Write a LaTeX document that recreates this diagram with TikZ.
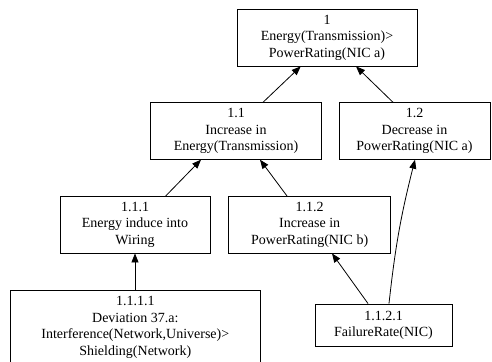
\documentclass[tikz,border=0pt]{standalone}
\usepackage{fontspec}
\setmainfont{Liberation Serif}
\usetikzlibrary{arrows.meta}
\begin{document}
\begin{tikzpicture}[x=1pt,y=-1pt,
  goalbox/.style={draw=black,line width=0.8pt,rectangle,inner sep=0pt,align=center,
    font=\fontsize{14pt}{16.5pt}\selectfont},
  arr/.style={draw=black,line width=0.8pt,-{Triangle[length=9pt,width=7pt]}}]
\useasboundingbox (0,0) rectangle (492,361);
\node[goalbox,minimum width=180pt,minimum height=57pt] (n1) at (327,37.5)
  {1\\Energy(Transmission)>\\PowerRating(NIC a)};
\node[goalbox,minimum width=170.3pt,minimum height=56.6pt] (n11) at (236,131)
  {1.1\\Increase in\\Energy(Transmission)};
\node[goalbox,minimum width=151pt,minimum height=56.6pt] (n12) at (414.5,131)
  {1.2\\Decrease in\\PowerRating(NIC a)};
\node[goalbox,minimum width=150pt,minimum height=56.6pt] (n111) at (135,224.7)
  {1.1.1\\Energy induce into\\Wiring};
\node[goalbox,minimum width=162pt,minimum height=56.6pt] (n112) at (309.7,224.7)
  {1.1.2\\Increase in\\PowerRating(NIC b)};
\node[goalbox,minimum width=249.3pt,minimum height=75pt] (n1111) at (135.3,327.5)
  {1.1.1.1\\Deviation 37.a:\\Interference(Network,Universe)>\\Shielding(Network)};
\node[goalbox,minimum width=137pt,minimum height=42.7pt] (n1121) at (383.5,325.3)
  {1.1.2.1\\FailureRate(NIC)};
\draw[arr] ([xshift=27pt]n11.north) -- ([xshift=-26.3pt]n1.south);
\draw[arr] ([xshift=-21.5pt]n12.north) -- ([xshift=29pt]n1.south);
\draw[arr] ([xshift=30.7pt]n111.north) -- ([xshift=-35pt]n11.south);
\draw[arr] ([xshift=-22.7pt]n112.north) -- ([xshift=24pt]n11.south);
\draw[arr] (n1111.north -| n111.south) -- (n111.south);
\draw[arr] ([xshift=-15.5pt]n1121.north) -- ([xshift=22.3pt]n112.south);
\draw[arr] ([xshift=5.5pt]n1121.north) to[bend left=4] ([xshift=0.5pt]n12.south);
\end{tikzpicture}
\end{document}
